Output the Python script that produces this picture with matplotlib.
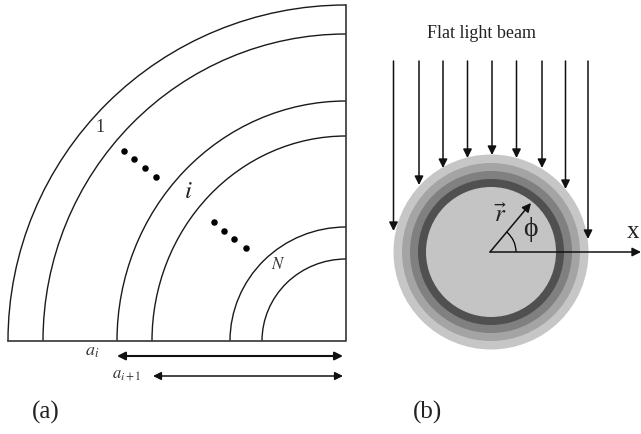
import matplotlib
matplotlib.use('Agg')
import matplotlib.pyplot as plt
from matplotlib.patches import Arc, Circle

plt.rcParams['font.family'] = ['Liberation Serif', 'DejaVu Serif']
plt.rcParams['mathtext.fontset'] = 'stix'

# panel (a): shell radii, pixels from the corner
ARC_CENTRE = (346, 341)
arc_rx = [338, 303, 229, 194, 116, 84]
arc_ry = [336, 307, 240, 205, 114, 82]
dots_x = [124, 134, 145, 156, 214, 224, 234, 246]
dots_y = [151, 159, 168, 177, 222, 231, 239, 248]

# panel (b): shells, outermost first
DISC_CENTRE = (491, 252)
ring_r = [97.5, 89, 81, 73, 65]
ring_col = ['#c6c6c6', '#a4a4a4', '#808080', '#505050', '#c4c4c4']
beam_x = [393.5, 419, 443, 467.5, 492, 516.5, 542, 565.5, 588]
beam_end = [231, 185, 168, 158, 155, 158, 168, 189, 239]
BEAM_TOP = 61
ORIGIN = (490, 252)

fig = plt.figure(figsize=(6.41, 4.34), dpi=100)
ax = fig.add_axes([0, 0, 1, 1])
ax.set_xlim(0, 641)
ax.set_ylim(434, 0)
ax.axis('off')


def arrow(x0, y0, x1, y1, style='-|>', lw=1.1, size=13):
    ax.annotate('', xy=(x1, y1), xytext=(x0, y0),
                arrowprops=dict(arrowstyle=style, color='#111111', lw=lw,
                                mutation_scale=size, shrinkA=0, shrinkB=0))


# --- (a) ---
for rx, ry in zip(arc_rx, arc_ry):
    # y axis is inverted, so the upper left quarter is 180-270 deg here
    ax.add_patch(Arc(ARC_CENTRE, 2*rx, 2*ry, theta1=180, theta2=270,
                     color='#1a1a1a', lw=1.0))
ax.plot([8, 346, 346], [341, 341, 5], color='#333333', lw=1.2)
ax.scatter(dots_x, dots_y, s=22, color='black', linewidths=0, zorder=3)
arrow(117, 356, 343, 356, '<|-|>', 1.5, 12)
arrow(153, 376, 343, 376, '<|-|>', 1.1, 12)

ax.text(100, 128, '1', fontsize=13, ha='center', va='center', color='#333333')
ax.text(188, 192, r'$i$', fontsize=18, ha='center', va='center', color='#222222')
ax.text(278, 265, r'$N$', fontsize=12, ha='center', va='center', color='#333333')
ax.text(92, 352, r'$a_i$', fontsize=13, ha='center', va='center', color='#333333')
ax.text(126.5, 375, r'$a_{i+1}$', fontsize=12, ha='center', va='center', color='#333333')
ax.text(46, 412, '(a)', fontsize=18, ha='center', va='center', color='#222222')

# --- (b) ---
for r, col in zip(ring_r, ring_col):
    ax.add_patch(Circle(DISC_CENTRE, r, facecolor=col, edgecolor='none'))
for x, y in zip(beam_x, beam_end):
    arrow(x, BEAM_TOP, x, y)
arrow(ORIGIN[0], ORIGIN[1], 641, ORIGIN[1])
arrow(ORIGIN[0], ORIGIN[1], 531, 203)
ax.add_patch(Arc(ORIGIN, 52, 52, theta1=-50, theta2=0, color='black', lw=0.9))

ax.text(481.5, 34, 'Flat light beam', fontsize=13, ha='center', va='center',
        color='#222222')
ax.text(500.5, 215, r'$\vec{r}$', fontsize=18, ha='center', va='center', color='#222222')
ax.text(530.5, 230, 'ϕ', fontsize=20, ha='center', va='center', color='#222222')
ax.text(633, 232, 'x', fontsize=18, ha='center', va='center', color='#222222')
ax.text(428, 412, '(b)', fontsize=18, ha='center', va='center', color='#222222')

fig.savefig('out.png', dpi=100)
